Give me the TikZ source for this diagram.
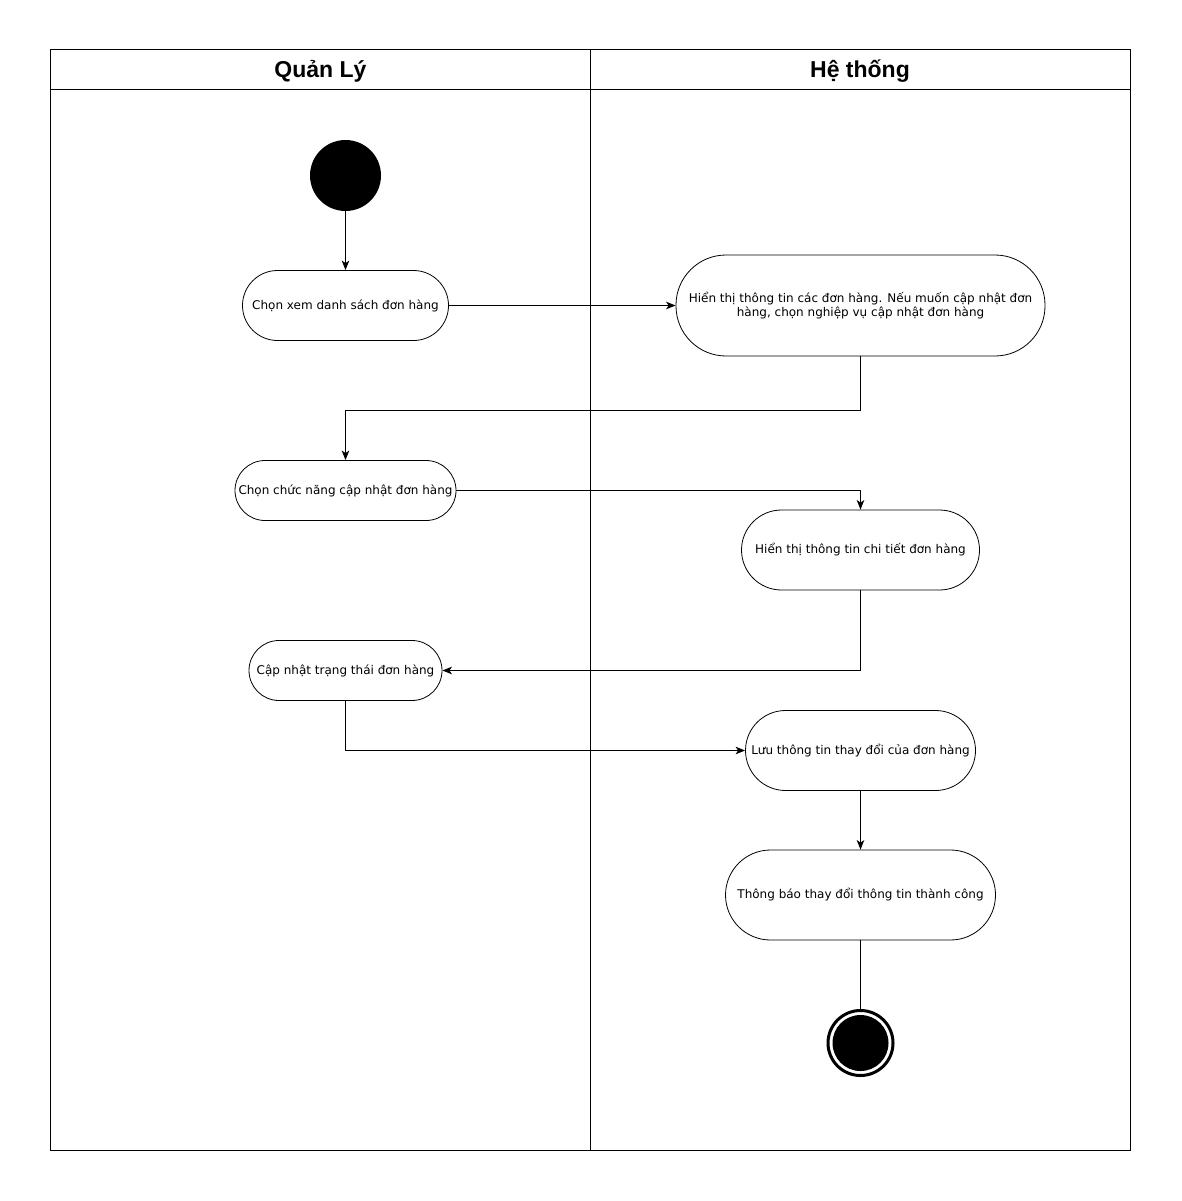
\documentclass[tikz,border=0pt]{standalone}
\usepackage{fontspec}
\setmainfont{DejaVu Sans}
\newfontfamily\headfont{Liberation Sans}
\usetikzlibrary{arrows.meta}
\begin{document}
\begin{tikzpicture}[x=1pt,y=-1pt,
  lane/.style={draw=black,line width=1pt},
  act/.style={draw=black,line width=0.8pt,fill=white,inner sep=0pt,align=center,
    font=\fontsize{12}{14.5}\selectfont},
  flow/.style={draw=black,line width=0.9pt,-{Stealth[length=9.5pt,width=7.5pt,inset=2.5pt]}},
  plain/.style={draw=black,line width=0.9pt},
  head/.style={font=\headfont\bfseries\fontsize{23}{26}\selectfont}]
\useasboundingbox (0,0) rectangle (1181,1201);
\fill[white] (0,0) rectangle (1181,1201);
% swimlanes
\draw[lane] (50,50) rectangle (1130,1150);
\draw[lane] (50,90) -- (1130,90);
\draw[lane] (590,50) -- (590,1150);
\node[head] (h1) at (320.5,71) {Quản Lý};
\node[head] (h2) at (860,71) {Hệ thống};
% start
\node[circle,fill=black,minimum size=71pt,inner sep=0pt] (start) at (345.5,175.5) {};
% activities
\node[act,rectangle,rounded corners=35pt,minimum width=206pt,minimum height=70pt] (a) at (345.5,305.5) {Chọn xem danh sách đơn hàng};
\node[act,rectangle,rounded corners=50pt,minimum width=369pt,minimum height=101pt] (b) at (860.5,305.5) {Hiển thị thông tin các đơn hàng. Nếu muốn cập nhật đơn\\hàng, chọn nghiệp vụ cập nhật đơn hàng};
\node[act,rectangle,rounded corners=30pt,minimum width=221pt,minimum height=60pt] (c) at (345.5,490.5) {Chọn chức năng cập nhật đơn hàng};
\node[act,rectangle,rounded corners=40pt,minimum width=238pt,minimum height=80pt] (d) at (860.5,550) {Hiển thị thông tin chi tiết đơn hàng};
\node[act,rectangle,rounded corners=30pt,minimum width=193pt,minimum height=60pt] (e) at (345.5,670.5) {Cập nhật trạng thái đơn hàng};
\node[act,rectangle,rounded corners=40pt,minimum width=230pt,minimum height=80pt] (f) at (860.5,750.5) {Lưu thông tin thay đổi của đơn hàng};
\node[act,rectangle,rounded corners=45pt,minimum width=270pt,minimum height=90pt] (g) at (860.5,895) {Thông báo thay đổi thông tin thành công};
% end
\node[circle,draw=black,line width=3pt,fill=white,minimum size=65pt,inner sep=0pt] (endo) at (860.5,1043) {};
\node[circle,fill=black,minimum size=56pt,inner sep=0pt] (endi) at (endo.center) {};
% connectors
\draw[flow] (start) -- (a);
\draw[flow] (a) -- (b);
\draw[flow] (b.south) |- (345.5,410) -- (c.north);
\draw[flow] (c.east) -| (d.north);
\draw[flow] (d.south) |- (e.east);
\draw[flow] (e.south) |- (f.west);
\draw[flow] (f) -- (g);
\draw[plain] (g.south) -- (endo.north);
\end{tikzpicture}
\end{document}
